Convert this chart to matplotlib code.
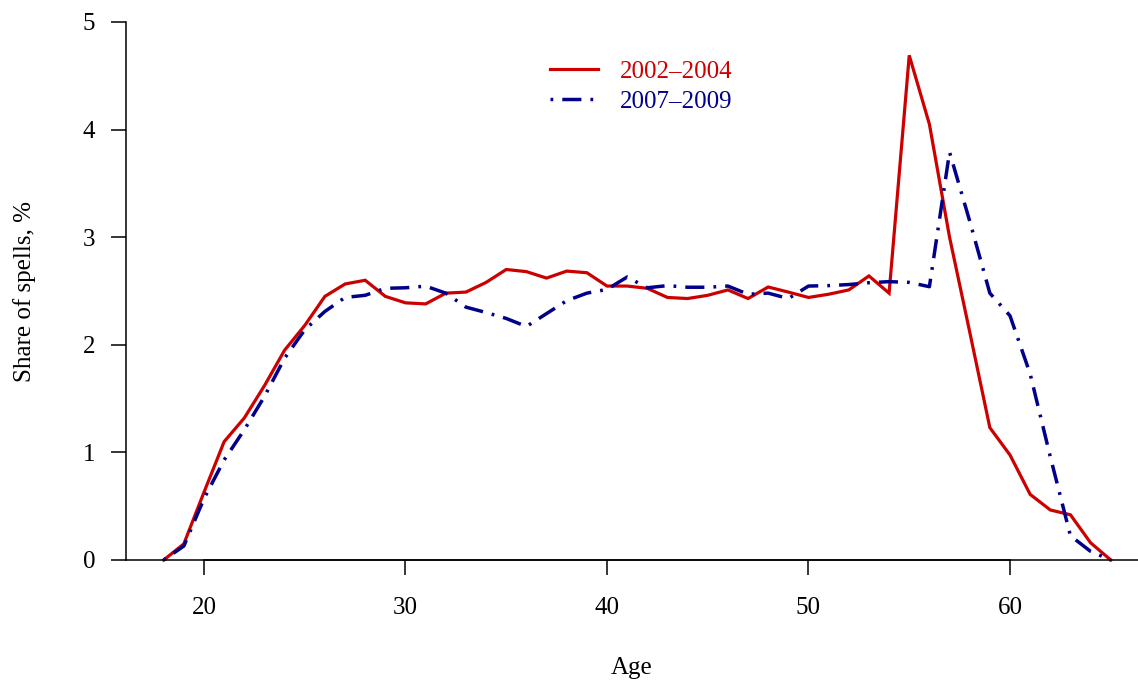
import matplotlib
matplotlib.use("Agg")
import matplotlib.pyplot as plt

ages = list(range(18, 66))
share_2002_2004 = [0.00, 0.15, 0.63, 1.10, 1.32, 1.62, 1.95, 2.18, 2.45, 2.565, 2.60, 2.45,
                   2.39, 2.38, 2.48, 2.49, 2.58, 2.70, 2.68, 2.62, 2.685, 2.67, 2.546, 2.546,
                   2.525, 2.44, 2.43, 2.46, 2.51, 2.43, 2.537, 2.49, 2.44, 2.47, 2.51, 2.64,
                   2.48, 4.69, 4.05, 3.00, 2.12, 1.23, 0.976, 0.61, 0.465, 0.42, 0.16, 0.00]
share_2007_2009 = [0.00, 0.13, 0.57, 0.93, 1.21, 1.52, 1.875, 2.14, 2.31, 2.44, 2.46, 2.525,
                   2.53, 2.545, 2.48, 2.35, 2.30, 2.245, 2.17, 2.29, 2.41, 2.48, 2.515, 2.63,
                   2.53, 2.55, 2.535, 2.535, 2.546, 2.47, 2.48, 2.43, 2.546, 2.55, 2.56, 2.577,
                   2.587, 2.58, 2.54, 3.79, 3.15, 2.48, 2.27, 1.73, 0.96, 0.225, 0.08, 0.00]
series_labels = ["2002\u20132004", "2007\u20132009"]
x_ticks = [20, 30, 40, 50, 60]
y_ticks = [0, 1, 2, 3, 4, 5]

RED = "#CD0000"
BLUE = "#00008B"
FS = 18

plt.rcParams['font.family'] = ['Liberation Serif', 'DejaVu Serif']
plt.rcParams['font.size'] = FS

fig = plt.figure(figsize=(11.38, 6.8), dpi=100)
W, H = 1138, 680
left, right, bottom, top = 126, 1138, 560, 22
ax = fig.add_axes([left / W, 1 - bottom / H, (right - left) / W, (bottom - top) / H])

# x mapping: 20 -> 204 px, 60 -> 1010 px
ppy = (1010 - 204) / 40.0
xmin = 20 - (204 - left) / ppy
xmax = 20 + (right - 204) / ppy
ax.set_xlim(xmin, xmax)
ax.set_ylim(0, 5)

l1, = ax.plot(ages, share_2002_2004, color=RED, lw=2.3, label=series_labels[0],
              solid_joinstyle='miter', clip_on=False)
l2, = ax.plot(ages, share_2007_2009, color=BLUE, lw=2.5, label=series_labels[1],
              dashes=(0.8, 2.6, 5.5, 2.6), clip_on=False)

for s in ['top', 'right']:
    ax.spines[s].set_visible(False)
ax.spines['left'].set_bounds(0, 5)
ax.spines['bottom'].set_bounds(20, 60)
ax.spines['left'].set_linewidth(1.1)
ax.spines['bottom'].set_linewidth(1.1)
ax.axhline(0, color='black', lw=1.1, clip_on=False)

ax.set_xticks(x_ticks)
ax.set_yticks(y_ticks)
ax.tick_params(axis='x', length=11, width=1.1, pad=16, labelsize=FS)
ax.tick_params(axis='y', length=11, width=1.1, pad=11, labelsize=FS)

fig.text(632 / W, 1 - 668 / H, "Age", ha='center', va='center', fontsize=FS)
fig.text(25 / W, 1 - 291 / H, "Share of spells, %", ha='center', va='center',
         rotation=90, fontsize=FS)

leg = ax.legend(handles=[l1, l2], loc='upper left',
                bbox_to_anchor=((550 - left) / (right - left), 1 - (60 - top) / (bottom - top)),
                frameon=False, handlelength=1.92, handletextpad=0.88, labelspacing=0.3,
                fontsize=FS, borderaxespad=0, borderpad=0)
for txt, c in zip(leg.get_texts(), [RED, BLUE]):
    txt.set_color(c)

fig.savefig("out.png", dpi=100)
